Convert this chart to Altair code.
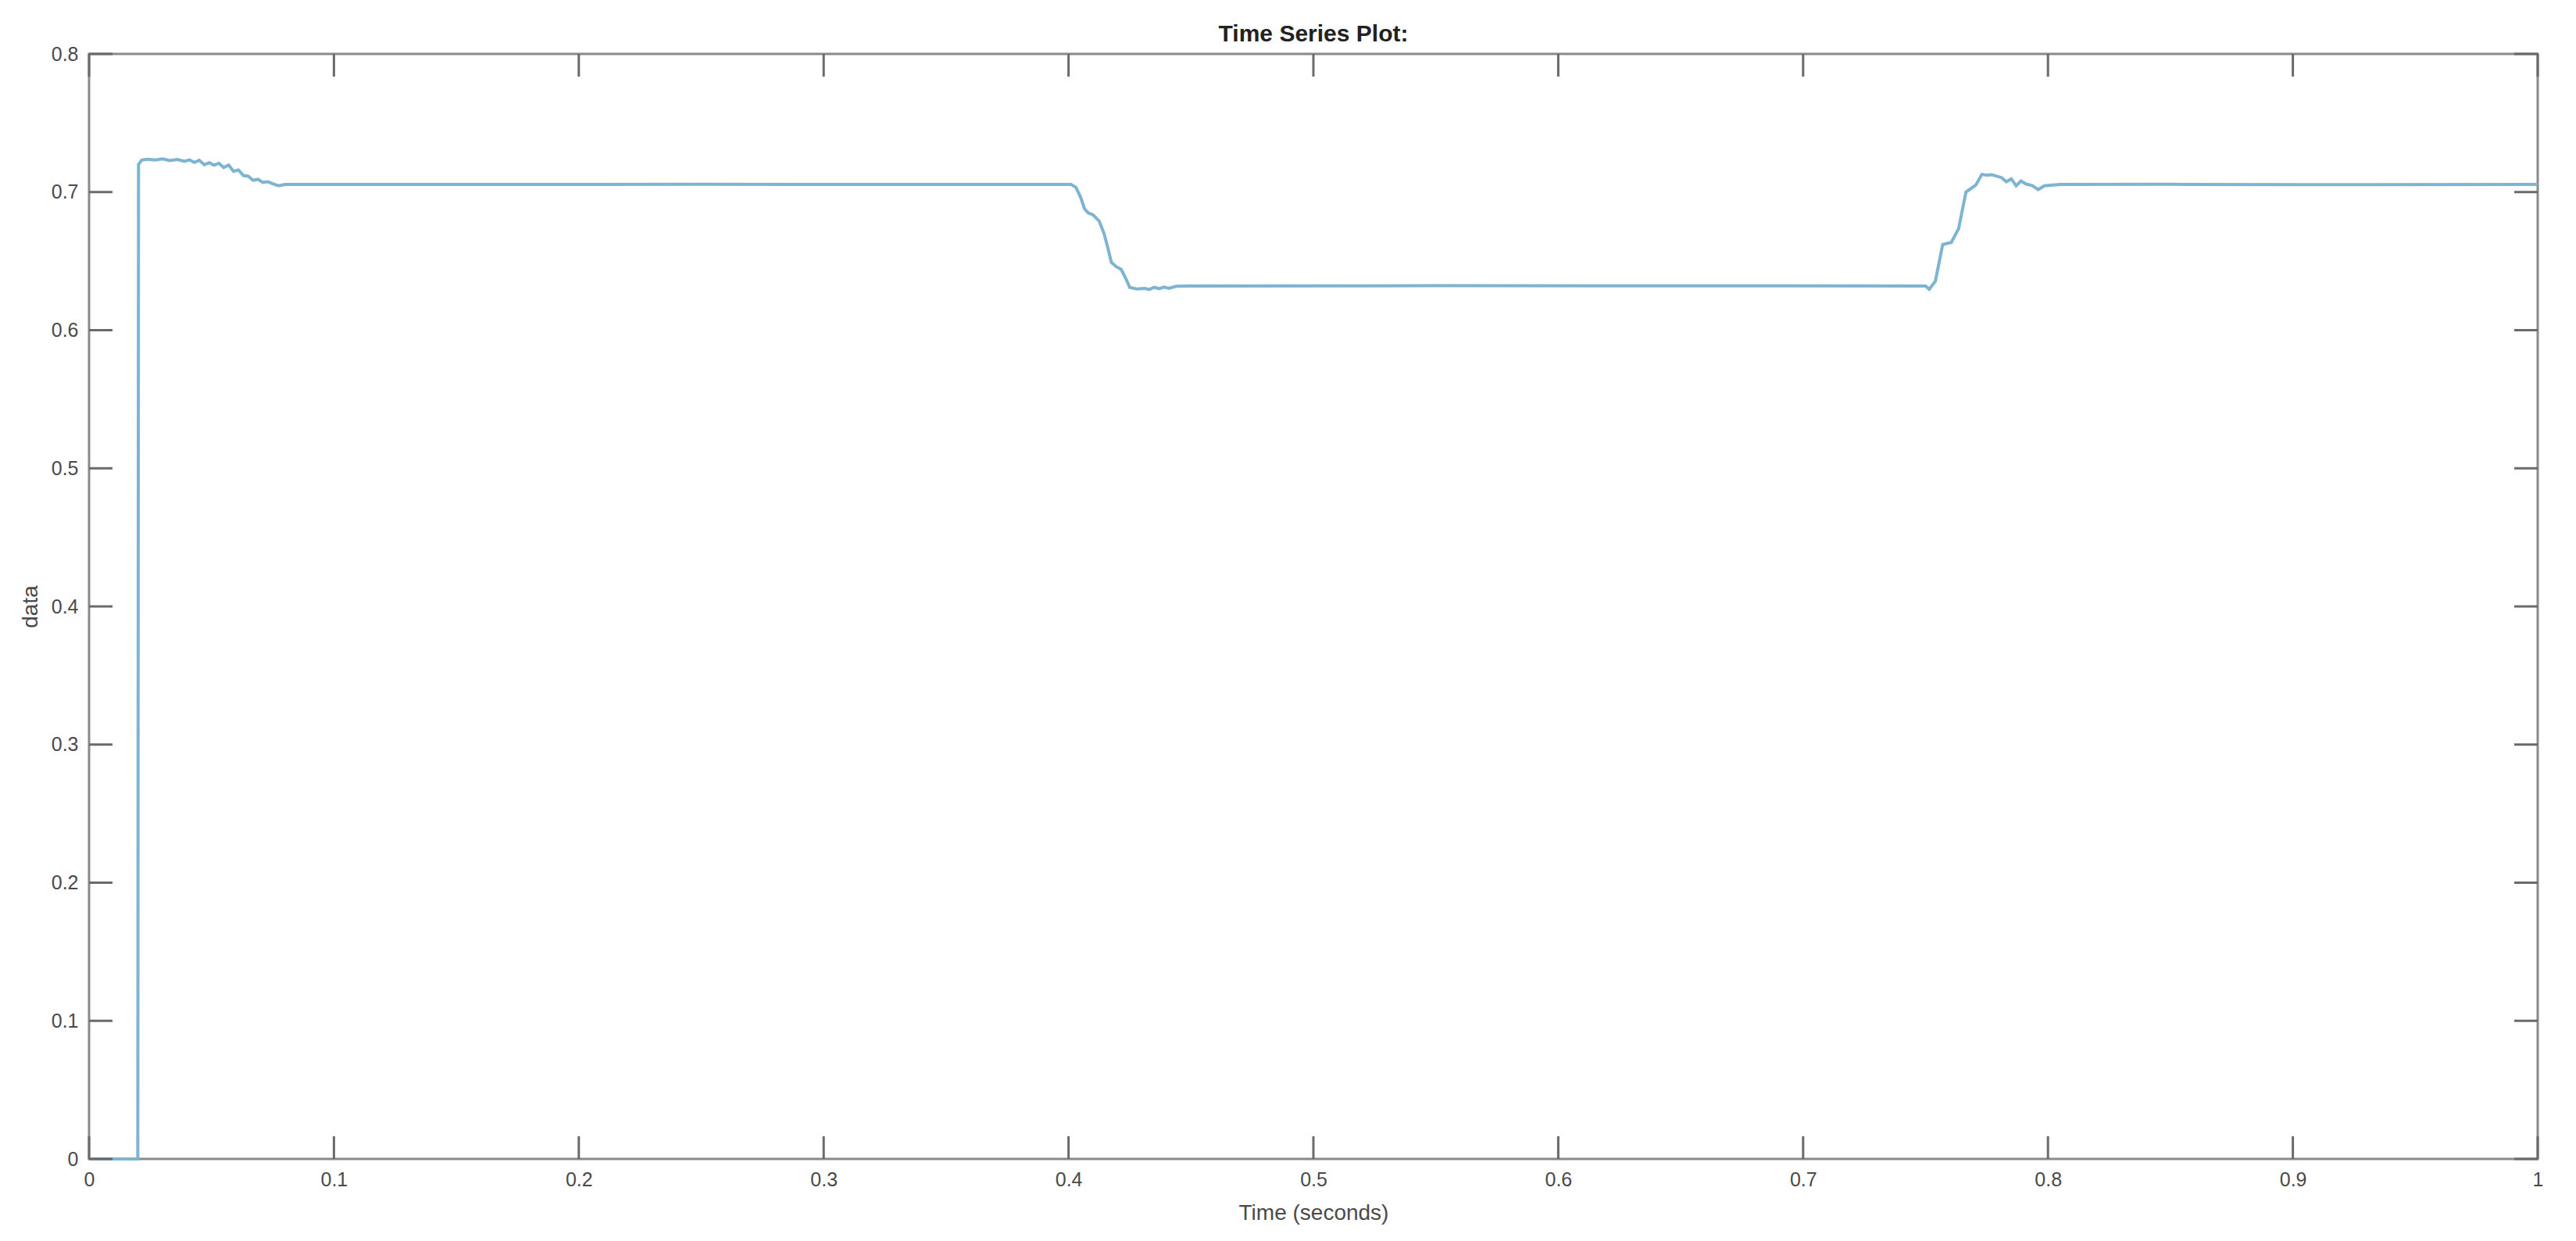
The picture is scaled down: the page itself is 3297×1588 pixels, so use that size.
import altair as alt
import pandas as pd

# ---- data ----
time_s = [0.0, 0.0199, 0.0202, 0.0215, 0.0240, 0.0270, 0.0300, 0.0330, 0.0360, 0.0390,
          0.0410, 0.0430, 0.0450, 0.0470, 0.0490, 0.0510, 0.0530, 0.0550, 0.0570, 0.0590,
          0.0610, 0.0630, 0.0650, 0.0670, 0.0690, 0.0710, 0.0730, 0.0750, 0.0775, 0.0800,
          0.1500, 0.2500, 0.3500, 0.4010, 0.4030, 0.4050, 0.4065, 0.4080, 0.4100, 0.4125,
          0.4145, 0.4160, 0.4175, 0.4195, 0.4215, 0.4235, 0.4250, 0.4280, 0.4310, 0.4330,
          0.4350, 0.4370, 0.4390, 0.4410, 0.4440, 0.4500, 0.5500, 0.6500, 0.7500, 0.7515,
          0.7540, 0.7570, 0.7605, 0.7635, 0.7665, 0.7705, 0.7730, 0.7750, 0.7770, 0.7790,
          0.7810, 0.7830, 0.7850, 0.7870, 0.7890, 0.7910, 0.7935, 0.7960, 0.7985, 0.8050,
          0.8500, 0.9000, 1.0000]
data_vals = [0.0, 0.0, 0.7200, 0.7232, 0.7238, 0.7232, 0.7240, 0.7228, 0.7236, 0.7222,
             0.7233, 0.7215, 0.7230, 0.7198, 0.7212, 0.7195, 0.7208, 0.7178, 0.7195, 0.7150,
             0.7160, 0.7120, 0.7115, 0.7085, 0.7092, 0.7070, 0.7075, 0.7060, 0.7045, 0.7055,
             0.7055, 0.7056, 0.7055, 0.7055, 0.7035, 0.6960, 0.6880, 0.6850, 0.6835, 0.6790,
             0.6700, 0.6600, 0.6490, 0.6460, 0.6440, 0.6370, 0.6310, 0.6298, 0.6302, 0.6295,
             0.6310, 0.6300, 0.6312, 0.6303, 0.6318, 0.6320, 0.6322, 0.6321, 0.6320, 0.6297,
             0.6354, 0.6620, 0.6635, 0.6735, 0.7000, 0.7050, 0.7128, 0.7122, 0.7126, 0.7115,
             0.7105, 0.7075, 0.7095, 0.7045, 0.7080, 0.7058, 0.7048, 0.7018, 0.7045, 0.7055,
             0.7056, 0.7054, 0.7055]
x_ticks = [0, 0.1, 0.2, 0.3, 0.4, 0.5, 0.6, 0.7, 0.8, 0.9, 1]
y_ticks = [0, 0.1, 0.2, 0.3, 0.4, 0.5, 0.6, 0.7, 0.8]

W, H = 3134, 1414
FONT = "Liberation Sans"
BOX = "#8a8a8a"
TICK = "#6a6a6a"
TEXT = "#4a4a4a"

df = pd.DataFrame({"t": time_s, "v": data_vals})
xt = pd.DataFrame({"t": x_ticks})
yt = pd.DataFrame({"v": y_ticks})

xscale = alt.Scale(domain=[0, 1], nice=False, zero=False)
yscale = alt.Scale(domain=[0, 0.8], nice=False, zero=False)

line = alt.Chart(df).mark_line(color="#7db4d2", strokeWidth=4, interpolate="linear").encode(
    x=alt.X("t:Q", scale=xscale,
            axis=alt.Axis(values=x_ticks, format="~g", title="Time (seconds)", ticks=False,
                          domain=False, grid=False, labelFontSize=25, labelColor=TEXT,
                          labelFont=FONT, labelPadding=14, titleFontSize=28, titleFont=FONT,
                          titleColor=TEXT, titleFontWeight="normal", titlePadding=16,
                          labelFlush=False)),
    y=alt.Y("v:Q", scale=yscale,
            axis=alt.Axis(values=y_ticks, format="~g", title="data", ticks=False, domain=False,
                          grid=False, labelFontSize=25, labelColor=TEXT, labelFont=FONT,
                          labelPadding=14, titleFontSize=28, titleFont=FONT, titleColor=TEXT,
                          titleFontWeight="normal", titlePadding=12, labelFlush=False)),
)

yl = alt.Chart(yt).mark_rule(color=TICK, strokeWidth=3).encode(
    y=alt.Y("v:Q", scale=yscale), x=alt.value(0), x2=alt.value(30))
yr = alt.Chart(yt).mark_rule(color=TICK, strokeWidth=3).encode(
    y=alt.Y("v:Q", scale=yscale), x=alt.value(W - 30), x2=alt.value(W))
xb = alt.Chart(xt).mark_rule(color=TICK, strokeWidth=3).encode(
    x=alt.X("t:Q", scale=xscale), y=alt.value(H - 29), y2=alt.value(H))
xtp = alt.Chart(xt).mark_rule(color=TICK, strokeWidth=3).encode(
    x=alt.X("t:Q", scale=xscale), y=alt.value(0), y2=alt.value(29))

chart = alt.layer(line, yl, yr, xb, xtp).properties(
    width=W, height=H,
    title=alt.TitleParams("Time Series Plot:", fontSize=30, font=FONT, fontWeight="bold",
                          color="#222222", anchor="middle", offset=-2),
    autosize=alt.AutoSizeParams(type="none"),
    padding={"left": 106, "top": 61, "right": 35, "bottom": 90},
).configure(background="white").configure_view(stroke=BOX, strokeWidth=3)

chart.save("out.html", embed_options={"renderer": "svg", "actions": False})
